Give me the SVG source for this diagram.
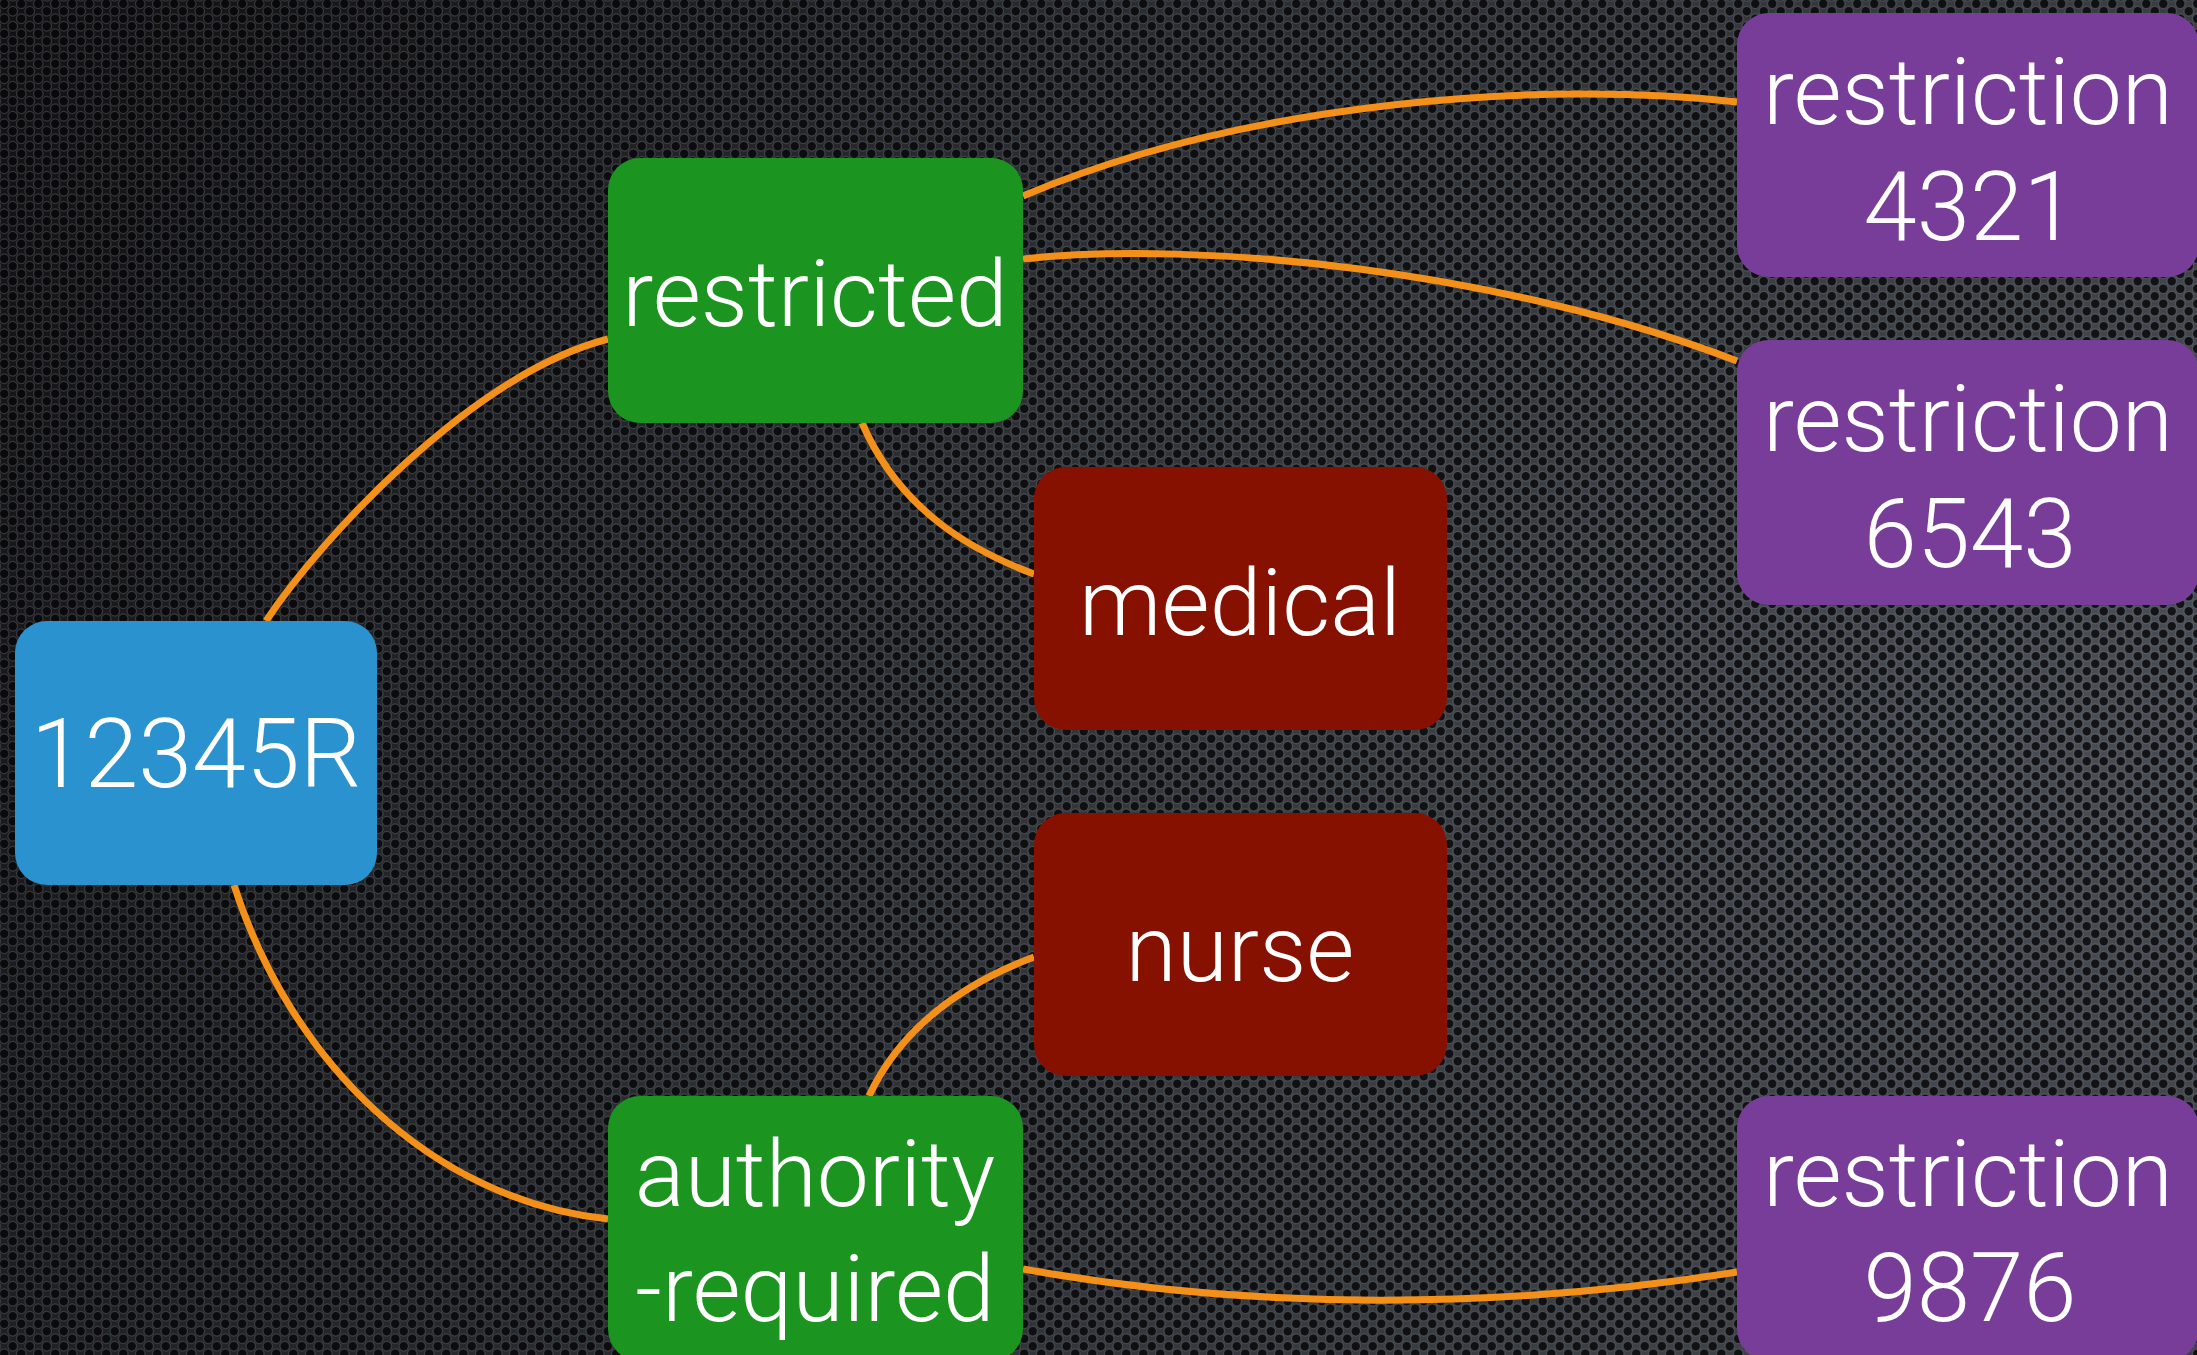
<svg xmlns="http://www.w3.org/2000/svg" width="2197" height="1355" viewBox="0 0 2197 1355">
<style>
.lbl{font-family:Roboto,"Liberation Sans",Arial,sans-serif;font-weight:300;font-size:93px;fill:#ffffff;text-anchor:middle}
.num{font-size:96px}
.edge{fill:none;stroke:#f3901a;stroke-width:7;stroke-linecap:butt}
.blue{fill:#2a93cf}
.green{fill:#1c9420}
.red{fill:#861100}
.purple{fill:#773d98}
</style>
<defs>
<linearGradient id="bg" x1="0" y1="0" x2="1" y2="0.35">
<stop offset="0" stop-color="#1a1618"/>
<stop offset="0.45" stop-color="#33363b"/>
<stop offset="1" stop-color="#4a4e54"/>
</linearGradient>
<radialGradient id="vig" cx="0.9" cy="0.5" r="0.9">
<stop offset="0" stop-color="#000" stop-opacity="0"/>
<stop offset="1" stop-color="#000" stop-opacity="0.3"/>
</radialGradient>
<pattern id="holes" width="17" height="15" patternUnits="userSpaceOnUse">
<g fill="#0a0a0c" stroke="#6f767f" stroke-opacity="0.65" stroke-width="1.3">
<circle cx="4.25" cy="3.75" r="4.8"/>
<circle cx="12.75" cy="11.25" r="4.8"/>
<circle cx="-4.25" cy="11.25" r="4.8"/>
<circle cx="21.25" cy="3.75" r="4.8"/>
<circle cx="4.25" cy="18.75" r="4.8"/>
<circle cx="12.75" cy="-3.75" r="4.8"/>
<circle cx="21.25" cy="18.75" r="4.8"/>
<circle cx="-4.25" cy="-3.75" r="4.8"/>
</g>
</pattern>
</defs>
<g id="background">
<rect width="2197" height="1355" fill="url(#bg)"/>
<rect width="2197" height="1355" fill="url(#holes)" opacity="0.85"/>
<rect width="2197" height="1355" fill="url(#vig)"/>
</g>
<g id="connectors">
<path class="edge" d="M266,621 C320,540 470,375 608,339"/>
<path class="edge" d="M234,885 C290,1060 430,1200 608,1219"/>
<path class="edge" d="M862,423 C900,510 970,550 1034,574"/>
<path class="edge" d="M1034,957 C960,985 900,1030 869,1096"/>
<path class="edge" d="M1023,196 C1250,100 1550,80 1737,102"/>
<path class="edge" d="M1023,259 C1200,240 1500,270 1737,361"/>
<path class="edge" d="M1023,1269 C1250,1310 1500,1310 1737,1272"/>
</g>
<g id="node-12345R">
<rect class="blue" x="15" y="621" width="362" height="264" rx="32"/>
<text class="lbl" x="196" y="787" style="font-size:97px">12345R</text>
</g>
<g id="node-restricted">
<rect class="green" x="608" y="158" width="415" height="265" rx="32"/>
<text class="lbl" x="815" y="326">restricted</text>
</g>
<g id="node-medical">
<rect class="red" x="1034" y="467" width="413" height="263" rx="32"/>
<text class="lbl" x="1240" y="635">medical</text>
</g>
<g id="node-nurse">
<rect class="red" x="1034" y="813" width="413" height="263" rx="32"/>
<text class="lbl" x="1240" y="981">nurse</text>
</g>
<g id="node-authority-required">
<rect class="green" x="608" y="1096" width="415" height="265" rx="32"/>
<text class="lbl" x="815" y="1206">authority</text>
<text class="lbl" x="815" y="1321">-required</text>
</g>
<g id="node-restriction-4321">
<rect class="purple" x="1737" y="13" width="462" height="264" rx="32"/>
<text class="lbl" x="1968" y="124">restriction</text>
<text class="lbl num" x="1970" y="240">4321</text>
</g>
<g id="node-restriction-6543">
<rect class="purple" x="1737" y="340" width="462" height="265" rx="32"/>
<text class="lbl" x="1968" y="451">restriction</text>
<text class="lbl num" x="1970" y="567">6543</text>
</g>
<g id="node-restriction-9876">
<rect class="purple" x="1737" y="1096" width="462" height="265" rx="32"/>
<text class="lbl" x="1968" y="1206">restriction</text>
<text class="lbl num" x="1970" y="1321">9876</text>
</g>
</svg>
